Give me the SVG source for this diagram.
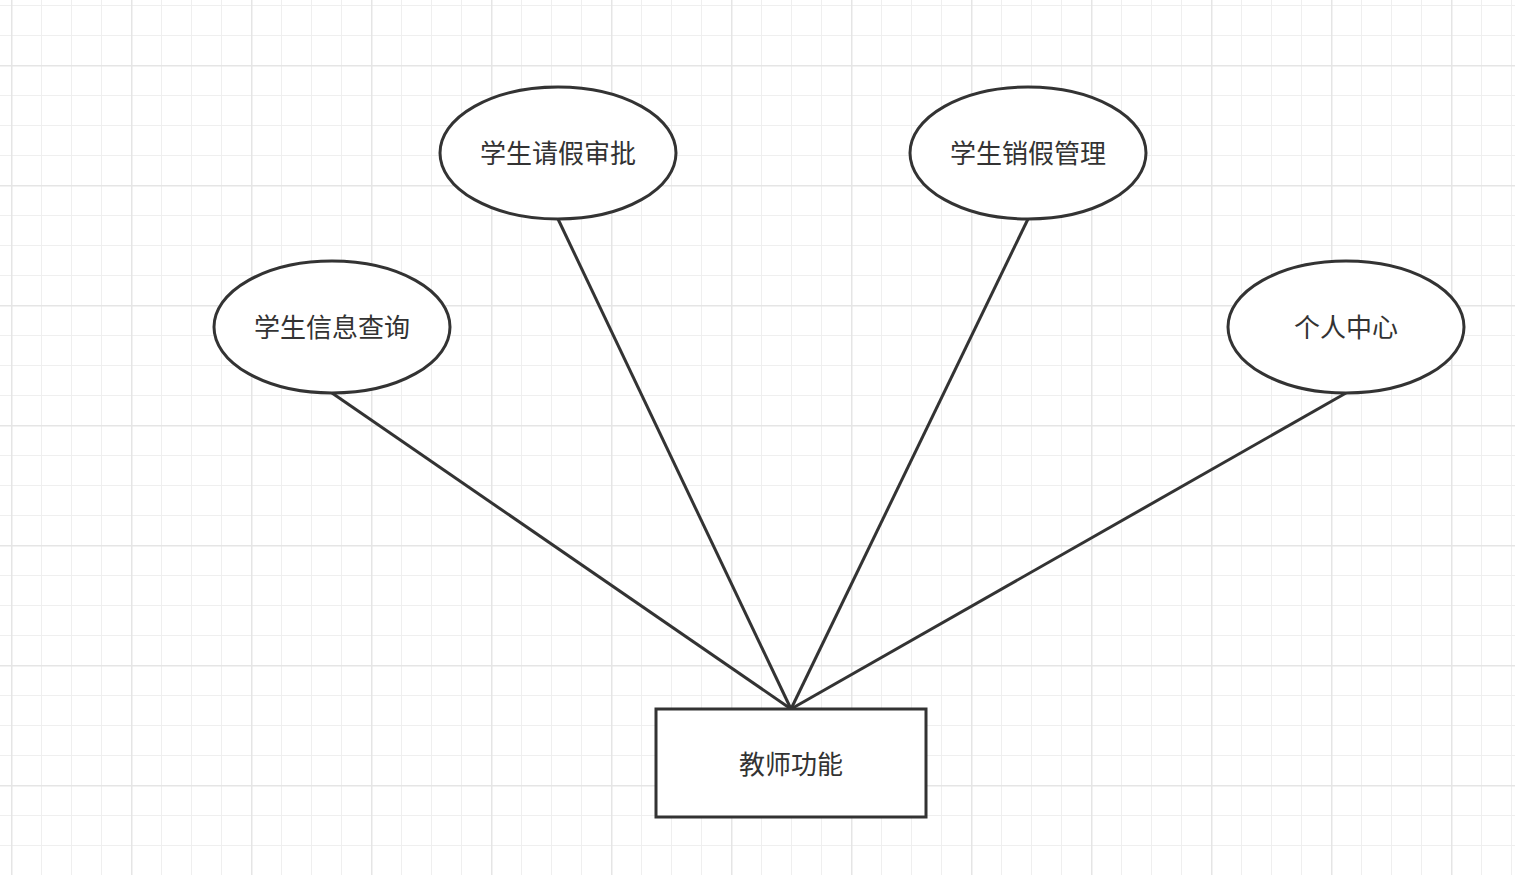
<svg xmlns="http://www.w3.org/2000/svg" width="1515" height="875" viewBox="0 0 1515 875">
<defs>
<pattern id="minor" x="11" y="5" width="30" height="30" patternUnits="userSpaceOnUse">
<path d="M0 0H30M0 0V30" fill="none" stroke="#efefef" stroke-width="2"/>
</pattern>
<pattern id="major" x="11" y="65" width="120" height="120" patternUnits="userSpaceOnUse">
<path d="M0 0H120M0 0V120" fill="none" stroke="#e5e5e5" stroke-width="3"/>
</pattern>
<style>
.n{fill:#fff;stroke:#333;stroke-width:3}
.t{font-family:"Noto Sans CJK SC","Noto Sans",sans-serif;font-size:26px;fill:#333;text-anchor:middle;dominant-baseline:central}
.c{stroke:#333;stroke-width:3;fill:none}
</style>
</defs>
<rect width="1515" height="875" fill="#fff"/>
<rect width="1515" height="875" fill="url(#minor)"/>
<rect width="1515" height="875" fill="url(#major)"/>
<g id="connectors">
<line class="c" x1="332" y1="393" x2="791" y2="709"/>
<line class="c" x1="558" y1="219" x2="791" y2="709"/>
<line class="c" x1="1028" y1="219" x2="791" y2="709"/>
<line class="c" x1="1346" y1="393" x2="791" y2="709"/>
</g>
<g id="n1"><ellipse class="n" cx="332" cy="327" rx="118" ry="66"/><text class="t" x="332" y="325">学生信息查询</text></g>
<g id="n2"><ellipse class="n" cx="558" cy="153" rx="118" ry="66"/><text class="t" x="558" y="151">学生请假审批</text></g>
<g id="n3"><ellipse class="n" cx="1028" cy="153" rx="118" ry="66"/><text class="t" x="1028" y="151">学生销假管理</text></g>
<g id="n4"><ellipse class="n" cx="1346" cy="327" rx="118" ry="66"/><text class="t" x="1346" y="325">个人中心</text></g>
<g id="n5"><rect class="n" x="656" y="709" width="270" height="108"/><text class="t" x="791" y="762">教师功能</text></g>
</svg>
